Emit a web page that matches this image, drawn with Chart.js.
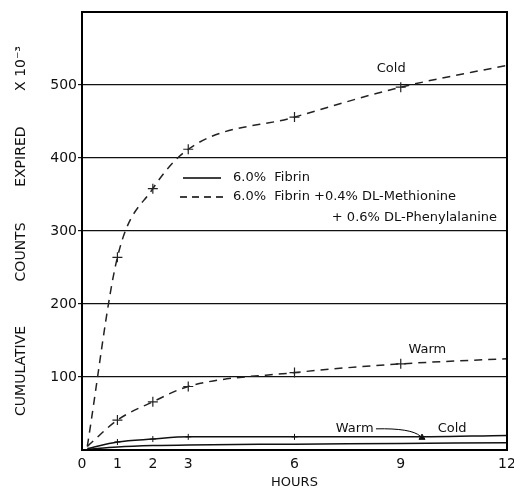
<!DOCTYPE html>
<html>
<head>
<meta charset="utf-8">
<script src="https://cdn.jsdelivr.net/npm/chart.js@4.4.1/dist/chart.umd.min.js"></script>
<style>
  html, body { margin: 0; padding: 0; background: #fff; }
  #wrap { width: 514px; height: 492px; }
</style>
</head>
<body>
<div id="wrap"><canvas id="countsChart"></canvas></div>
<script>
const hours = [0.15, 1, 2, 3, 6, 9, 12];
const coldAmino = [5, 264, 358, 412, 456, 497, 527];   // dashed, Cold
const warmAmino = [5, 41, 66, 87, 106, 118, 125];      // dashed, Warm
const warmFibrin = [2, 11, 15, 18, 18, 18, 20];        // solid, Warm
const coldFibrin = [1, 4, 6, 7, 8, 9, 10];             // solid, Cold
const warmMarker = [{ x: 9.6, y: 17 }];                // small triangle on Warm line

const hourTicks = [0, 1, 2, 3, 6, 9, 12];
const countTicks = [100, 200, 300, 400, 500];

const FONT = "'DejaVu Sans', sans-serif";

function toPoints(values) {
  return values.map((v, i) => ({ x: hours[i], y: v }));
}

// frame, curve labels and legend
const extras = {
  id: 'extras',
  afterDatasetsDraw(chart) {
    const { ctx, chartArea: a, scales: { x, y } } = chart;
    ctx.save();
    ctx.strokeStyle = '#000';
    ctx.lineWidth = 2;
    ctx.strokeRect(a.left, a.top, a.right - a.left, a.bottom - a.top);

    ctx.fillStyle = '#111';
    ctx.font = '13px ' + FONT;
    ctx.textAlign = 'center';
    ctx.textBaseline = 'middle';
    ctx.fillText('Cold', x.getPixelForValue(8.73), y.getPixelForValue(523));
    ctx.fillText('Warm', x.getPixelForValue(9.75), y.getPixelForValue(138));
    ctx.fillText('Warm', x.getPixelForValue(7.7), y.getPixelForValue(29));
    ctx.fillText('Cold', x.getPixelForValue(10.45), y.getPixelForValue(29));

    // pointer from lower "Warm" to the triangle
    ctx.lineWidth = 1;
    ctx.beginPath();
    ctx.moveTo(x.getPixelForValue(8.3), y.getPixelForValue(29));
    ctx.quadraticCurveTo(x.getPixelForValue(9.3), y.getPixelForValue(30),
      x.getPixelForValue(9.55), y.getPixelForValue(19));
    ctx.stroke();

    // legend box between 400 and 300 lines
    const lx = a.left + 101;
    ctx.fillStyle = '#fff';
    ctx.fillRect(lx - 6, y.getPixelForValue(396), a.right - lx + 4, y.getPixelForValue(304) - y.getPixelForValue(396));
    ctx.strokeStyle = '#000';
    ctx.lineWidth = 1.3;
    ctx.beginPath();
    ctx.moveTo(lx, 178);
    ctx.lineTo(lx + 38, 178);
    ctx.stroke();
    ctx.setLineDash([7, 5]);
    ctx.beginPath();
    ctx.moveTo(lx - 3, 197);
    ctx.lineTo(lx + 40, 197);
    ctx.stroke();
    ctx.setLineDash([]);
    ctx.fillStyle = '#111';
    ctx.textAlign = 'left';
    ctx.fillText('6.0%  Fibrin', lx + 50, 178);
    ctx.fillText('6.0%  Fibrin +0.4% DL-Methionine', lx + 50, 197);
    ctx.textAlign = 'right';
    ctx.fillText('+ 0.6% DL-Phenylalanine', a.right - 10, 218);
    ctx.restore();
  }
};

const ctx = document.getElementById('countsChart').getContext('2d');
const chart = new Chart(ctx, {
  type: 'line',
  data: {
    datasets: [
      {
        label: 'Cold amino',
        data: toPoints(coldAmino),
        borderColor: '#222',
        borderWidth: 1.5,
        borderDash: [8, 6],
        pointStyle: 'cross',
        pointRadius: [0, 5, 5, 5, 5, 5, 0],
        pointBorderColor: '#222',
        pointBorderWidth: 1.2,
        cubicInterpolationMode: 'monotone'
      },
      {
        label: 'Warm amino',
        data: toPoints(warmAmino),
        borderColor: '#222',
        borderWidth: 1.5,
        borderDash: [8, 6],
        pointStyle: 'cross',
        pointRadius: [0, 5, 5, 5, 5, 5, 0],
        pointBorderColor: '#222',
        pointBorderWidth: 1.2,
        cubicInterpolationMode: 'monotone'
      },
      {
        label: 'Warm fibrin',
        data: toPoints(warmFibrin),
        borderColor: '#111',
        borderWidth: 1.5,
        pointStyle: 'cross',
        pointRadius: [0, 3, 3, 3, 3, 0, 0],
        pointBorderColor: '#111',
        pointBorderWidth: 1,
        cubicInterpolationMode: 'monotone'
      },
      {
        label: 'Cold fibrin',
        data: toPoints(coldFibrin),
        borderColor: '#111',
        borderWidth: 1.5,
        pointRadius: 0,
        cubicInterpolationMode: 'monotone'
      },
      {
        label: 'marker',
        data: warmMarker,
        showLine: false,
        pointStyle: 'triangle',
        pointRadius: 3.5,
        backgroundColor: '#111',
        borderColor: '#111'
      }
    ]
  },
  options: {
    responsive: true,
    maintainAspectRatio: false,
    animation: false,
    layout: { padding: { left: 0, right: 7, top: 12, bottom: 0 } },
    plugins: {
      legend: { display: false },
      tooltip: { enabled: false }
    },
    scales: {
      x: {
        type: 'linear',
        min: 0,
        max: 12,
        afterBuildTicks: (scale) => { scale.ticks = hourTicks.map(v => ({ value: v })); },
        afterFit: (scale) => {
          scale.height = 42;
          scale.paddingLeft = 0;
          scale.paddingRight = 0;
        },
        grid: { display: false, drawTicks: false },
        border: { display: false },
        ticks: { color: '#111', font: { family: FONT, size: 14 }, padding: 6, maxRotation: 0 },
        title: {
          display: true,
          text: 'HOURS',
          color: '#111',
          font: { family: FONT, size: 13 },
          padding: { top: 0, bottom: 2 }
        }
      },
      y: {
        min: 0,
        max: 600,
        afterBuildTicks: (scale) => { scale.ticks = [0].concat(countTicks, [600]).map(v => ({ value: v })); },
        afterFit: (scale) => { scale.width = 82; },
        grid: {
          drawTicks: true,
          tickLength: 4,
          color: (c) => countTicks.includes(c.tick.value) ? '#111' : 'rgba(0,0,0,0)',
          lineWidth: 1.2
        },
        border: { display: false },
        ticks: {
          color: '#111',
          font: { family: FONT, size: 14 },
          padding: 1,
          callback: (v) => countTicks.includes(v) ? v : ''
        },
        title: {
          display: true,
          text: 'CUMULATIVE          COUNTS        EXPIRED        X 10⁻³',
          color: '#111',
          font: { family: FONT, size: 14 },
          padding: { top: 13, bottom: 0 }
        }
      }
    }
  },
  plugins: [extras]
});
</script>
</body>
</html>
